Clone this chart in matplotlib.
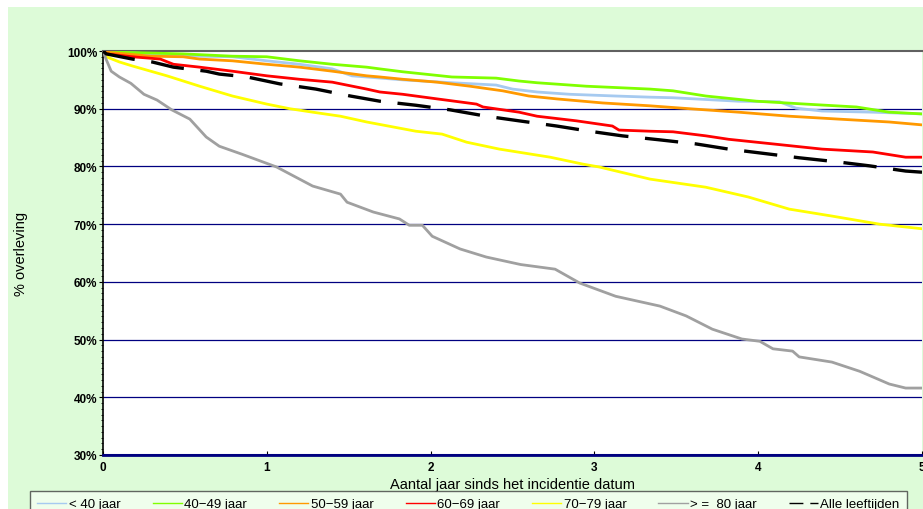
import matplotlib.pyplot as plt
import numpy as np
from matplotlib.patches import Rectangle
from matplotlib.ticker import MultipleLocator, FuncFormatter

# overleving per leeftijdsgroep (jaar, %)
t_lt40 = [0, 0.08, 0.59, 0.79, 1.0, 1.2, 1.4, 1.52, 1.83, 2.13, 2.40, 2.50, 2.65, 2.85, 3.13, 3.34, 3.48, 3.88, 4.13, 4.23, 4.39, 4.70, 5.0]
v_lt40 = [100, 99.8, 99.1, 99.0, 98.3, 97.7, 96.9, 95.7, 95.0, 94.5, 94.1, 93.4, 92.9, 92.5, 92.2, 92.0, 91.9, 91.3, 91.2, 90.1, 89.6, 89.4, 89.1]

t_40 = [0, 0.08, 0.49, 0.79, 1.0, 1.2, 1.4, 1.61, 1.69, 1.83, 2.13, 2.40, 2.54, 2.65, 2.95, 3.34, 3.48, 3.68, 3.99, 4.29, 4.60, 4.80, 5.0]
v_40 = [100, 99.8, 99.5, 99.1, 99.0, 98.3, 97.7, 97.2, 96.9, 96.4, 95.5, 95.3, 94.8, 94.5, 93.9, 93.4, 93.1, 92.2, 91.3, 90.8, 90.3, 89.4, 89.1]

t_50 = [0, 0.02, 0.29, 0.49, 0.59, 0.79, 1.0, 1.2, 1.4, 1.61, 1.69, 1.83, 2.04, 2.24, 2.44, 2.60, 2.77, 3.05, 3.34, 3.58, 3.88, 4.19, 4.49, 4.8, 5.0]
v_50 = [100, 99.8, 99.1, 99.0, 98.6, 98.3, 97.7, 97.2, 96.5, 95.7, 95.5, 95.1, 94.6, 93.9, 93.1, 92.2, 91.7, 91.0, 90.5, 90.0, 89.4, 88.7, 88.2, 87.7, 87.2]

t_60 = [0, 0.02, 0.18, 0.35, 0.43, 0.59, 0.79, 1.0, 1.2, 1.4, 1.61, 1.69, 1.83, 2.04, 2.28, 2.32, 2.54, 2.65, 2.89, 3.11, 3.15, 3.34, 3.48, 3.68, 3.82, 4.09, 4.39, 4.70, 4.90, 5.0]
v_60 = [100, 99.5, 99.0, 98.6, 97.7, 97.2, 96.5, 95.7, 95.1, 94.6, 93.4, 92.9, 92.5, 91.7, 90.8, 90.3, 89.4, 88.7, 87.9, 87.0, 86.3, 86.1, 86.0, 85.3, 84.7, 83.9, 83.0, 82.5, 81.6, 81.6]

t_70 = [0, 0.02, 0.1, 0.18, 0.39, 0.59, 0.79, 1.0, 1.14, 1.28, 1.45, 1.61, 1.91, 2.07, 2.22, 2.42, 2.73, 2.93, 3.03, 3.34, 3.68, 3.94, 4.19, 4.45, 4.74, 5.0]
v_70 = [100, 99.0, 98.1, 97.4, 95.7, 93.9, 92.2, 90.8, 90.0, 89.4, 88.7, 87.7, 86.1, 85.6, 84.2, 83.0, 81.6, 80.4, 79.9, 77.8, 76.4, 74.7, 72.6, 71.4, 70.0, 69.2]

t_80 = [0, 0.02, 0.05, 0.1, 0.17, 0.25, 0.33, 0.42, 0.53, 0.63, 0.71, 0.85, 1.06, 1.28, 1.45, 1.49, 1.65, 1.81, 1.87, 1.95, 2.01, 2.18, 2.34, 2.55, 2.76, 2.91, 3.13, 3.40, 3.56, 3.72, 3.90, 4.01, 4.09, 4.21, 4.25, 4.45, 4.62, 4.80, 4.90, 5.0]
v_80 = [100, 98.5, 96.5, 95.5, 94.4, 92.5, 91.5, 89.8, 88.2, 85.1, 83.5, 82.1, 79.9, 76.6, 75.2, 73.8, 72.1, 70.9, 69.8, 69.8, 67.9, 65.7, 64.3, 63.0, 62.2, 59.8, 57.5, 55.8, 54.1, 51.8, 50.1, 49.7, 48.4, 48.0, 47.0, 46.1, 44.5, 42.3, 41.6, 41.6]

t_all = [0, 0.02, 0.18, 0.3, 0.43, 0.63, 0.71, 0.88, 1.08, 1.30, 1.51, 1.69, 1.91, 2.12, 2.34, 2.54, 2.77, 2.97, 3.17, 3.40, 3.62, 3.82, 4.05, 4.25, 4.48, 4.68, 4.90, 5.0]
v_all = [100, 99.5, 98.6, 98.1, 97.2, 96.5, 96.0, 95.5, 94.3, 93.4, 92.2, 91.3, 90.6, 89.8, 88.7, 87.9, 87.0, 86.1, 85.3, 84.6, 83.9, 83.0, 82.2, 81.5, 80.8, 80.1, 79.2, 79.0]

labels = ['< 40 jaar', '40\u221249 jaar', '50\u221259 jaar', '60\u221269 jaar',
          '70\u221279 jaar', '> =  80 jaar', 'Alle leeftijden']

plt.rcParams['font.family'] = ['Liberation Sans', 'DejaVu Sans']

fig = plt.figure(figsize=(9.23, 5.10), dpi=100, facecolor='white')
fig.patches.append(Rectangle((8 / 923, 0), 1, 1 - 8 / 510, transform=fig.transFigure,
                             facecolor='#ddfbd8', edgecolor='none', zorder=-5))

ax = fig.add_axes([103 / 923, 54 / 510, 819 / 923, 404 / 510])
ax.set_facecolor('white')

for y in range(40, 100, 10):
    ax.axhline(y, color='#000080', lw=0.9, zorder=1)
ax.axhline(30, color='#000080', lw=2.2, zorder=1)

ax.plot(t_lt40, v_lt40, color='#a6caf0', lw=2, label=labels[0], zorder=3)
ax.plot(t_40, v_40, color='#80ff00', lw=2, label=labels[1], zorder=3)
ax.plot(t_50, v_50, color='#ff9900', lw=2, label=labels[2], zorder=3)
ax.plot(t_60, v_60, color='#ff0000', lw=2, label=labels[3], zorder=3)
ax.plot(t_70, v_70, color='#ffff00', lw=2, label=labels[4], zorder=3)
ax.plot(t_80, v_80, color='#a0a0a0', lw=2, label=labels[5], zorder=3)
ax.plot(t_all, v_all, color='black', lw=2.4, ls=(0, (10, 5)), label=labels[6], zorder=4)

ax.set_xlim(0, 5)
ax.set_ylim(30, 100)
ax.xaxis.set_major_locator(MultipleLocator(1))
ax.yaxis.set_major_locator(MultipleLocator(10))
ax.yaxis.set_minor_locator(MultipleLocator(1))
ax.yaxis.set_major_formatter(FuncFormatter(lambda v, p: '%d%%' % v))

ax.spines['right'].set_visible(False)
ax.spines['top'].set_color('#606060')
ax.spines['top'].set_linewidth(1.5)
ax.spines['bottom'].set_color('#000080')
ax.spines['bottom'].set_linewidth(2)
ax.spines['left'].set_color('black')
ax.spines['left'].set_linewidth(1.2)

ax.tick_params(axis='y', which='major', length=3, pad=1, labelsize=8.5)
ax.tick_params(axis='y', which='minor', length=1.5)
ax.tick_params(axis='x', length=3, pad=4, labelsize=8.5, direction='in')
for lab in ax.get_xticklabels() + ax.get_yticklabels():
    lab.set_fontweight('bold')

ax.set_xlabel('Aantal jaar sinds het incidentie datum', fontsize=10.5, labelpad=3)
ax.set_ylabel('% overleving', fontsize=10.5, labelpad=28)

leg = fig.legend(loc='upper left', bbox_to_anchor=(30 / 923, 1 - 492 / 510 - 0.05, 877 / 923, 0.05),
                 mode='expand', ncol=7, fontsize=9.5, frameon=True, fancybox=False,
                 handlelength=2.2, handletextpad=0.2, borderaxespad=0, borderpad=0.55)
leg.get_frame().set_facecolor('#f4fff2')
leg.get_frame().set_edgecolor('#404040')
leg.get_frame().set_linewidth(1)
for h in leg.get_lines():
    h.set_linewidth(1)

fig.savefig('out.png', dpi=100, facecolor=fig.get_facecolor())
